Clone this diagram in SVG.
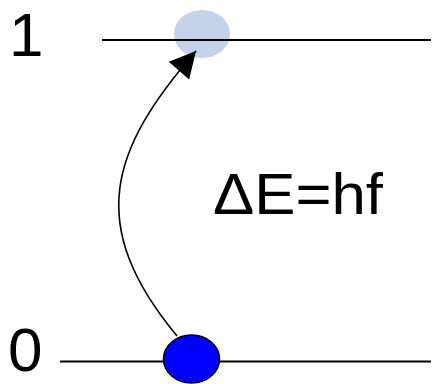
<svg xmlns="http://www.w3.org/2000/svg" width="433" height="384" viewBox="0 0 433 384">
<style>
.lvl{stroke:#000;stroke-width:2;fill:none}
.lbl{font-family:"Liberation Sans",Arial,sans-serif;fill:#000}
</style>
<defs>
<marker id="ah" markerUnits="userSpaceOnUse" markerWidth="30" markerHeight="30" viewBox="-27 -15 30 30" refX="0" refY="0" orient="auto">
<path d="M0,0 L-26,-13.5 L-26,13.5 Z" fill="#000"/>
</marker>
</defs>
<rect width="433" height="384" fill="#fff"/>
<g id="level1">
<ellipse cx="202" cy="34" rx="28" ry="24" fill="#c3d4ea"/>
<line class="lvl" x1="102" y1="40" x2="431" y2="40"/>
<text class="lbl" x="9" y="56" font-size="62">1</text>
</g>
<g id="level0">
<line class="lvl" x1="60" y1="361.5" x2="431" y2="361.5"/>
<ellipse cx="191.5" cy="359" rx="28" ry="24" fill="#0000ff" stroke="#000" stroke-width="1.5"/>
<text class="lbl" x="8" y="371" font-size="62">0</text>
</g>
<g id="label">
<text class="lbl" x="213" y="214" font-size="57" textLength="170" lengthAdjust="spacingAndGlyphs">ΔE=hf</text>
</g>
<g id="connectors">
<path d="M177,336 C85,225 110,150 196,51" fill="none" stroke="#000" stroke-width="1.6" marker-end="url(#ah)"/>
</g>
</svg>
